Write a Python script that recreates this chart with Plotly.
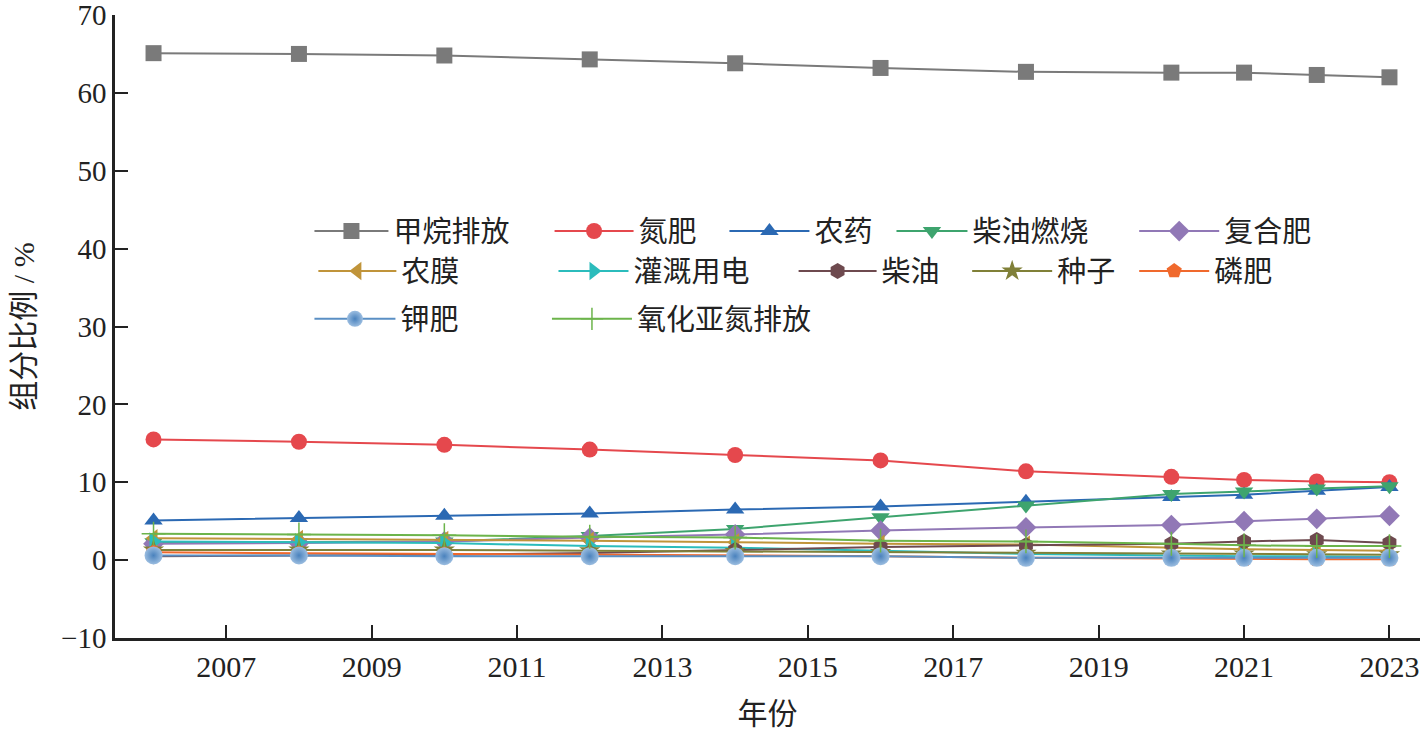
import plotly.graph_objects as go

# years on the x axis
years = [2006, 2008, 2010, 2012, 2014, 2016, 2018, 2020, 2021, 2022, 2023]

# component shares, %
methane = [65.1, 65.0, 64.8, 64.3, 63.8, 63.2, 62.7, 62.6, 62.6, 62.3, 62.0]
nitrogen = [15.5, 15.2, 14.8, 14.2, 13.5, 12.8, 11.4, 10.7, 10.3, 10.1, 10.0]
pesticide = [5.1, 5.4, 5.7, 6.0, 6.5, 6.9, 7.5, 8.1, 8.4, 8.9, 9.4]
diesel_burn = [2.3, 2.3, 2.4, 3.1, 4.0, 5.5, 7.0, 8.5, 8.8, 9.2, 9.5]
compound = [2.1, 2.2, 2.4, 2.9, 3.3, 3.8, 4.2, 4.5, 5.0, 5.3, 5.7]
film = [2.8, 2.7, 2.6, 2.5, 2.3, 2.1, 2.0, 1.6, 1.4, 1.3, 1.2]
irrigation = [2.4, 2.3, 2.2, 1.8, 1.6, 1.2, 0.8, 0.6, 0.5, 0.5, 0.4]
diesel = [0.5, 0.6, 0.7, 0.9, 1.3, 1.7, 1.9, 2.1, 2.4, 2.6, 2.2]
seed = [1.3, 1.3, 1.3, 1.2, 1.1, 1.0, 0.9, 0.8, 0.8, 0.7, 0.7]
phosphate = [1.0, 0.9, 0.8, 0.7, 0.6, 0.5, 0.3, 0.2, 0.1, 0.1, 0.1]
potash = [0.6, 0.6, 0.5, 0.5, 0.5, 0.5, 0.3, 0.3, 0.3, 0.3, 0.3]
n2o = [3.4, 3.3, 3.2, 3.0, 2.9, 2.5, 2.4, 2.1, 1.9, 1.8, 1.8]

# name, values, colour, symbol
series = [
    ("甲烷排放", methane, "#7a7a7a", "square"),
    ("氮肥", nitrogen, "#e5484d", "circle"),
    ("农药", pesticide, "#2b69b3", "triangle-up"),
    ("柴油燃烧", diesel_burn, "#3ea46e", "triangle-down"),
    ("复合肥", compound, "#9178b6", "diamond"),
    ("农膜", film, "#c0943a", "triangle-left"),
    ("灌溉用电", irrigation, "#2bbcbc", "triangle-right"),
    ("柴油", diesel, "#6e4a4f", "hexagon"),
    ("种子", seed, "#808038", "star"),
    ("磷肥", phosphate, "#f0692d", "pentagon"),
    ("钾肥", potash, "#5a8fc4", "circle"),
    ("氧化亚氮排放", n2o, "#6cb44b", "cross-thin"),
]

# hand-placed legend entries (paper x, paper y, symbol width), like the original
leg_pos = [
    (0.149, 0.653, 74), (0.333, 0.653, 79), (0.467, 0.653, 80), (0.595, 0.653, 71), (0.781, 0.653, 80),
    (0.152, 0.589, 78), (0.336, 0.589, 70), (0.520, 0.589, 78), (0.653, 0.589, 80), (0.781, 0.589, 70),
    (0.149, 0.512, 81), (0.331, 0.512, 80),
]

font_main = "Liberation Serif, Noto Sans CJK SC, serif"

fig = go.Figure()
legends = {}
for i, ((name, vals, col, sym), (lx, ly, iw)) in enumerate(zip(series, leg_pos)):
    key = "legend" if i == 0 else "legend%d" % (i + 1)
    marker = dict(symbol=sym, size=16, color=col, line=dict(width=0))
    if sym == "cross-thin":
        marker = dict(symbol=sym, size=17, color=col, line=dict(width=1.5, color=col))
    if name == "钾肥":
        marker = dict(symbol=sym, size=18, color="#9bbde0",
                      gradient=dict(type="radial", color="#4a82bd"), line=dict(width=0))
    fig.add_trace(go.Scatter(x=years, y=vals, name=name, mode="lines+markers",
                             line=dict(color=col, width=2), marker=marker, legend=key))
    legends[key] = dict(x=lx, y=ly, xanchor="left", yanchor="middle", itemwidth=iw,
                        bgcolor="rgba(0,0,0,0)",
                        font=dict(size=29, color="#222", family=font_main))

fig.update_layout(
    width=1427, height=746, showlegend=True,
    plot_bgcolor="white", paper_bgcolor="white",
    margin=dict(l=115, r=7, t=15, b=108),
    font=dict(family=font_main, size=30, color="#222"),
    **legends,
)

fig.update_xaxes(range=[2005.47, 2023.42], tickvals=list(range(2007, 2024, 2)),
                 ticks="inside", ticklen=13, tickwidth=2, tickcolor="#222",
                 showline=True, linewidth=2.5, linecolor="#222", showgrid=False,
                 zeroline=False, tickfont=dict(size=30), automargin=False,
                 ticklabeloverflow="allow",
                 title=dict(text="年份", font=dict(size=30), standoff=22))
fig.update_yaxes(range=[-10, 70], dtick=10,
                 ticks="inside", ticklen=13, tickwidth=2, tickcolor="#222",
                 showline=True, linewidth=2.5, linecolor="#222", showgrid=False,
                 zeroline=False, tickfont=dict(size=29), automargin=False,
                 ticklabeloverflow="allow",
                 title=dict(text="组分比例 / %", font=dict(size=30), standoff=18))

# drop the default page margin so the figure fills the window
fig.write_html("out.html", config={"displayModeBar": False},
               post_script="document.body.style.margin='0px';")
